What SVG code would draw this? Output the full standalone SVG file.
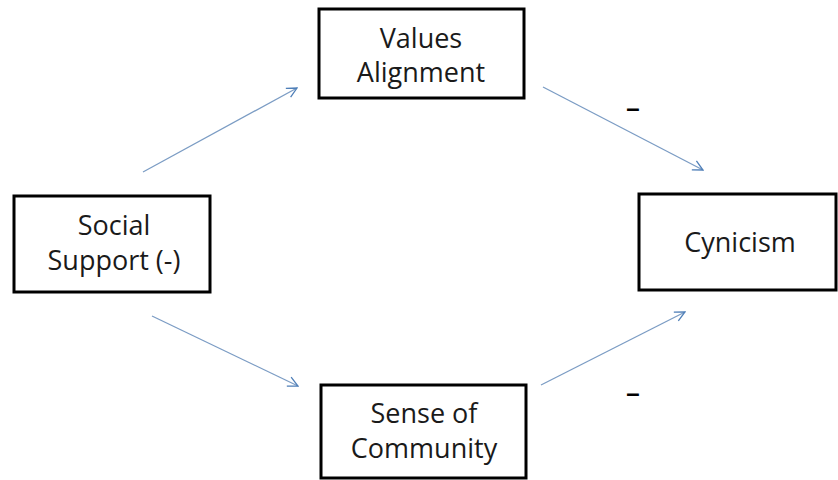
<svg xmlns="http://www.w3.org/2000/svg" width="838" height="480" viewBox="0 0 838 480">
<style>
.box{fill:#fff;stroke:#000;stroke-width:3}
.lbl{font-family:"Open Sans","Liberation Sans",sans-serif;font-size:27px;fill:#1a1a1a;text-anchor:middle}
.con{stroke:#7b9cc4;stroke-width:1.3;fill:none;marker-end:url(#ah)}
.neg{font-family:"Liberation Sans",sans-serif;font-size:24px;font-weight:bold;fill:#000;text-anchor:middle}
</style>
<defs>
<marker id="ah" viewBox="0 0 12 12" refX="11" refY="6" markerWidth="12" markerHeight="12" markerUnits="userSpaceOnUse" orient="auto">
<path d="M1,1 L11,6 L1,11" fill="none" stroke="#4f7fb8" stroke-width="1.3"/>
</marker>
</defs>
<rect width="838" height="480" fill="#fff"/>
<g id="connectors">
<line class="con" x1="143" y1="172" x2="297" y2="88"/>
<line class="con" x1="543" y1="87" x2="703" y2="170"/>
<line class="con" x1="152" y1="316" x2="298" y2="386"/>
<line class="con" x1="541" y1="385" x2="685" y2="312"/>
<text class="neg" x="633" y="116">–</text>
<text class="neg" x="633" y="401">–</text>
</g>
<g id="values-alignment">
<rect class="box" x="319" y="9" width="205" height="89"/>
<text class="lbl" x="421" y="48">Values</text>
<text class="lbl" x="421" y="82">Alignment</text>
</g>
<g id="social-support">
<rect class="box" x="14" y="196" width="196" height="96"/>
<text class="lbl" x="114" y="235">Social</text>
<text class="lbl" x="114" y="270">Support (-)</text>
</g>
<g id="cynicism">
<rect class="box" x="639" y="194" width="197" height="96"/>
<text class="lbl" x="740" y="252">Cynicism</text>
</g>
<g id="sense-of-community">
<rect class="box" x="321" y="385" width="205" height="93"/>
<text class="lbl" x="424" y="423">Sense of</text>
<text class="lbl" x="424" y="458">Community</text>
</g>
</svg>
